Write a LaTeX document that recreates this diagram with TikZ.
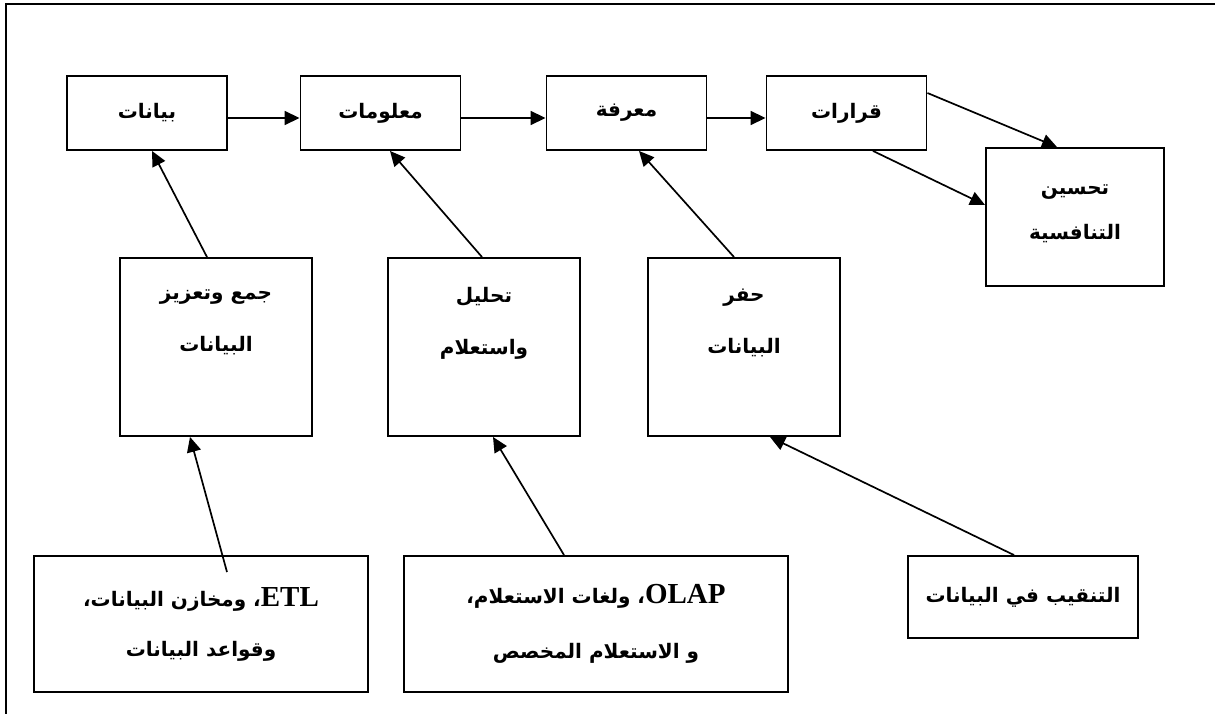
\documentclass[tikz,border=0pt]{standalone}
\usepackage{fontspec}
\setmainfont{Liberation Serif}
\newfontfamily\arabicfont[Script=Arabic]{DejaVu Sans}
\TeXXeTstate=1
\usetikzlibrary{arrows.meta}
% one right-to-left line, and a Latin word inside it
\newcommand{\rtline}[1]{\beginR #1\endR}
\newcommand{\latword}[1]{\beginL{\rmfamily\bfseries\fontsize{29}{30}\selectfont #1}\endL{}}

\begin{document}
\begin{tikzpicture}[x=1pt, y=-1pt,
    box/.style={draw, line width=1.9pt, align=center, inner sep=0pt,
      font=\arabicfont\bfseries\fontsize{20}{52}\selectfont},
    topbox/.style={box, minimum width=160pt, minimum height=74pt},
    midbox/.style={box, minimum width=192pt, minimum height=178pt},
    link/.style={line width=1.7pt, -{Triangle[length=15pt, width=14pt]}}]
    \useasboundingbox (0,0) rectangle (1215,714);

    % Ramecek
    \draw[line width=1.9pt] (1215,4) -- (6,4) -- (6,714);

    % Horni rada
    \node[topbox] (data) at (147,113) {\rtline{بيانات}};
    \node[topbox] (info) at (380.5,113) {\rtline{معلومات}};
    \node[topbox] (know) at (626.5,113) {\rtline{معرفة}};
    \node[topbox] (decide) at (846.5,113) {\rtline{قرارات}};
    \node[box, minimum width=178pt, minimum height=138pt,
      font=\arabicfont\bfseries\fontsize{20}{45}\selectfont] (compete) at (1075,217)
      {\rtline{تحسين}\\\rtline{التنافسية}\\[-35pt]};

    % Prostredni rada
    \node[midbox] (gather) at (216,347) {\rtline{جمع وتعزيز}\\\rtline{البيانات}\\ };
    \node[midbox] (analyse) at (484,347) {\rtline{تحليل}\\\rtline{واستعلام}\\ };
    \node[midbox] (mine) at (744,347) {\rtline{حفر}\\\rtline{البيانات}\\ };

    % Spodni rada
    \node[box, minimum width=334pt, minimum height=136pt,
      font=\arabicfont\bfseries\fontsize{20}{50}\selectfont] (etl) at (201,624)
      {\rtline{\latword{ETL}، ومخازن البيانات،}\\\rtline{وقواعد البيانات}};
    \node[box, minimum width=384pt, minimum height=136pt,
      font=\arabicfont\bfseries\fontsize{20}{55}\selectfont] (olap) at (596,624)
      {\rtline{\latword{OLAP}، ولغات الاستعلام،}\\\rtline{و الاستعلام المخصص}};
    \node[box, minimum width=230pt, minimum height=82pt] (dm) at (1023,597)
      {\rtline{التنقيب في البيانات}};

    % Sipky v horni rade
    \draw[link] ([yshift=-5pt]data.east) -- ([yshift=-5pt]info.west);
    \draw[link] ([yshift=-5pt]info.east) -- ([yshift=-5pt]know.west);
    \draw[link] ([yshift=-5pt]know.east) -- ([yshift=-5pt]decide.west);
    \draw[link] ([yshift=20pt]decide.east) -- ([xshift=-18pt]compete.north);
    \draw[link] ([xshift=26.5pt]decide.south) -- ([yshift=12pt]compete.west);

    % Sipky nahoru
    \draw[link] ([xshift=-9pt]gather.north) -- ([xshift=5pt]data.south);
    \draw[link] ([xshift=-2pt]analyse.north) -- ([xshift=9.5pt]info.south);
    \draw[link] ([xshift=-10pt]mine.north) -- ([xshift=12.5pt]know.south);
    \draw[link] ([xshift=26pt, yshift=-17pt]etl.north) -- ([xshift=-26pt]gather.south);
    \draw[link] ([xshift=-32pt]olap.north) -- ([xshift=9pt]analyse.south);
    \draw[link] ([xshift=-9pt]dm.north) -- ([xshift=26pt]mine.south);

\end{tikzpicture}
\end{document}
